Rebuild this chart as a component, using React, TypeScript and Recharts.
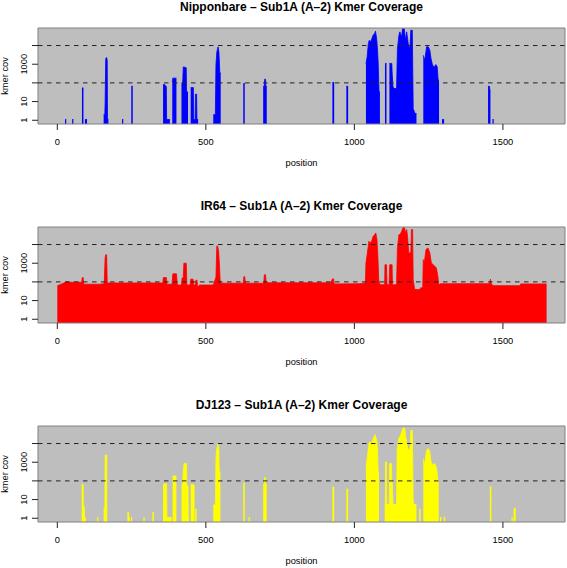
import { AreaChart, Area, XAxis, YAxis, CartesianGrid, ReferenceLine, ReferenceArea } from "recharts";

type Pt = [number, number];

const FONT = "'Liberation Sans', Arial, Helvetica, sans-serif";

// axis ticks
const xTicks = [0, 500, 1000, 1500];
const yTicks = [1, 10, 100, 1000, 10000];
const yTickLabels = ["1", "10", "", "1000", ""];
const cutoffs = [100, 10000];

// coverage runs: [position, kmer cov]
const nipponbareRuns: Pt[][] = [
  [[26, 1.1], [30, 1.1]],
  [[50, 1.1], [54, 1.1]],
  [[83, 54], [88, 54]],
  [[93, 1.1], [100, 1.1]],
  [[156, 2], [160, 2], [161, 10], [163, 2000], [166, 2300], [168, 1600], [169, 1.1], [172, 1.1]],
  [[218, 1.1], [222, 1.1]],
  [[249, 66], [254, 66]],
  [[356, 81], [362, 81], [364, 66], [367, 66], [368, 1.1], [379, 1.1]],
  [[387, 110], [389, 180], [401, 180]],
  [[418, 100], [422, 100], [424, 720], [430, 680], [434, 640], [435, 33], [440, 33]],
  [[449, 56], [458, 56], [459, 1.1], [464, 1.1], [465, 25], [469, 25], [470, 1.1], [474, 1.1]],
  [[525, 2], [532, 2], [534, 900], [537, 4500], [541, 8500], [544, 4500], [547, 340], [550, 340]],
  [[626, 92], [631, 92]],
  [[693, 66], [697, 66], [698, 157], [701, 157], [702, 66], [705, 66]],
  [[926, 105], [932, 105]],
  [[973, 66], [979, 66]],
  [[1039, 1100], [1043, 2450], [1047, 12600], [1050, 19000], [1054, 15500], [1059, 23400], [1063, 35500], [1068, 44000], [1071, 59000], [1075, 23400], [1078, 5600], [1080, 1300], [1083, 33], [1086, 33]],
  [[1103, 1100], [1108, 1100]],
  [[1118, 1100], [1126, 1100], [1127, 390], [1130, 61], [1134, 50], [1142, 50], [1145, 6900], [1150, 35500], [1153, 54000], [1159, 29000], [1162, 80000], [1168, 78000], [1172, 19000], [1176, 54000], [1179, 23400], [1182, 10500], [1187, 6900], [1190, 66000], [1195, 66000], [1198, 4.2], [1204, 2.3], [1209, 2.3]],
  [[1232, 3000], [1237, 1630], [1243, 8500], [1249, 8500], [1254, 5600], [1258, 2000], [1263, 880], [1270, 720], [1274, 960], [1279, 720], [1282, 140], [1285, 140]],
  [[1295, 1.1], [1302, 1.1]],
  [[1450, 66], [1455, 66], [1456, 40], [1458, 40]],
  [[1465, 1.1], [1469, 1.1]],
];

const ir64Runs: Pt[][] = [
  [
    [0, 63], [9, 71], [20, 85], [31, 103], [43, 96], [82, 96], [84, 170], [87, 170], [89, 75], [143, 75], [158, 80],
    [161, 2000], [163, 2800], [166, 2800], [168, 88], [345, 88], [355, 88], [357, 170], [367, 170], [369, 75], [386, 75],
    [389, 270], [401, 270], [404, 68], [418, 68], [420, 160], [424, 160], [426, 1000], [434, 1000], [436, 68], [447, 68],
    [449, 140], [457, 140], [459, 68], [464, 68], [467, 125], [470, 125], [472, 56], [476, 56], [478, 68], [525, 68],
    [534, 178], [537, 8500], [540, 8000], [543, 4200], [546, 700], [548, 125], [551, 85], [626, 85], [628, 190], [631, 190],
    [633, 85], [695, 85], [697, 240], [701, 240], [703, 90], [783, 90], [920, 90], [926, 145], [930, 145], [932, 78],
    [1018, 80], [1037, 88], [1039, 1050], [1043, 2900], [1049, 15000], [1052, 12300], [1058, 15000], [1063, 27500],
    [1069, 34000], [1072, 42000], [1076, 18600], [1079, 2350], [1082, 130], [1086, 71], [1102, 71], [1103, 830],
    [1108, 830], [1110, 71], [1117, 71], [1119, 830], [1127, 830], [1128, 71], [1142, 71], [1145, 6600], [1150, 34000],
    [1154, 34000], [1159, 51000], [1164, 80000], [1169, 80000], [1172, 42000], [1176, 63000], [1179, 27500],
    [1183, 3550], [1190, 3550], [1192, 63000], [1196, 63000], [1198, 130], [1203, 39], [1220, 39], [1223, 48],
    [1230, 48], [1232, 1550], [1236, 1270], [1241, 5400], [1248, 6600], [1254, 3550], [1259, 1050], [1265, 830],
    [1271, 690], [1276, 560], [1281, 200], [1284, 71], [1290, 80], [1455, 80], [1458, 140], [1461, 80], [1467, 63],
    [1557, 63], [1560, 78], [1647, 78],
  ],
];

const dj123Runs: Pt[][] = [
  [[82, 66], [87, 66], [88, 4.2], [91, 4.2], [92, 1.1], [96, 1.1]],
  [[134, 1.1], [138, 1.1]],
  [[156, 3.4], [160, 3.4], [161, 2450], [168, 2300]],
  [[236, 2.1], [240, 2.1], [241, 1.1], [244, 1.1]],
  [[248, 1.1], [252, 1.1]],
  [[290, 1.1], [294, 1.1]],
  [[320, 2.1], [325, 2.1]],
  [[356, 66], [363, 72], [368, 72], [369, 1.1], [385, 1.1]],
  [[388, 157], [390, 185], [401, 185]],
  [[418, 66], [422, 66], [424, 390], [427, 890], [435, 850], [436, 54], [440, 54], [441, 1.1], [443, 1.1]],
  [[449, 66], [458, 66], [459, 56], [462, 56]],
  [[464, 3], [469, 3]],
  [[525, 5.2], [532, 5.2], [534, 1500], [536, 4500], [541, 9500], [544, 4000], [545, 310], [549, 310]],
  [[626, 75], [631, 75]],
  [[644, 1.1], [648, 1.1]],
  [[693, 66], [697, 66], [698, 150], [701, 150], [702, 66], [705, 66]],
  [[926, 46], [932, 46]],
  [[973, 36], [979, 36]],
  [[1039, 560], [1043, 1550], [1049, 10000], [1052, 12300], [1057, 10000], [1061, 15000], [1066, 22600], [1070, 30000], [1075, 15000], [1078, 4400], [1080, 300], [1083, 300]],
  [[1102, 5.4], [1104, 5.4], [1105, 1050], [1108, 1050], [1109, 5.4], [1117, 5.4], [1118, 850], [1125, 850], [1126, 88], [1128, 88], [1130, 5.4], [1142, 5.4], [1144, 4400], [1149, 18600], [1153, 22600], [1159, 42000], [1164, 69000], [1170, 63000], [1173, 22600], [1178, 8100], [1181, 4400], [1187, 5400], [1190, 51000], [1195, 51000], [1198, 7.5], [1201, 5.4], [1209, 5.4]],
  [[1218, 3], [1223, 3]],
  [[1232, 1550], [1236, 690], [1243, 4400], [1249, 5400], [1254, 3550], [1258, 1050], [1263, 690], [1271, 850], [1277, 460], [1281, 110], [1284, 110]],
  [[1288, 1.1], [1293, 1.1]],
  [[1301, 1.1], [1306, 1.1]],
  [[1456, 49], [1461, 49]],
  [[1529, 1.1], [1533, 1.1]],
  [[1536, 3], [1540, 3.5], [1543, 3.5]],
];

const panels = [
  { title: "Nipponbare \u2013 Sub1A (A\u20132) Kmer Coverage", runs: nipponbareRuns, color: "#0000ff" },
  { title: "IR64 \u2013 Sub1A (A\u20132) Kmer Coverage", runs: ir64Runs, color: "#ff0000" },
  { title: "DJ123 \u2013 Sub1A (A\u20132) Kmer Coverage", runs: dj123Runs, color: "#ffff00" },
];

const X_DOMAIN: [number, number] = [-65, 1709];
const Y_DOMAIN: [number, number] = [0.63, 87000];
const CHART_W = 567;
const CHART_H = 190;
const PLOT_TOP = 28;
const PLOT_H = 96;
const PLOT_LEFT = 38;
const PLOT_RIGHT = 565;
const PANEL_STEP = 199;

function toRows(runs: Pt[][]) {
  const rows: { pos: number; cov: number | null }[] = [];
  runs.forEach((run) => {
    run.forEach(([pos, cov]) => rows.push({ pos, cov }));
    rows.push({ pos: run[run.length - 1][0], cov: null });
  });
  return rows;
}

function XTick({ x, y, payload }: any) {
  return (
    <text x={x} y={y + 12.5} textAnchor="middle" fontSize={9.3} fontFamily={FONT} fill="#000">
      {payload.value}
    </text>
  );
}

function YTick({ x, y, payload }: any) {
  const label = yTickLabels[yTicks.indexOf(payload.value)];
  if (!label) return <g />;
  return (
    <text
      transform={`translate(${x - 3.3},${y}) rotate(-90)`}
      textAnchor="middle"
      fontSize={9.3}
      fontFamily={FONT}
      fill="#000"
    >
      {label}
    </text>
  );
}

function Panel({ runs, color }: { runs: Pt[][]; color: string }) {
  const rows = toRows(runs);
  return (
    <AreaChart width={CHART_W} height={CHART_H} data={rows} margin={{ top: PLOT_TOP, right: CHART_W - PLOT_RIGHT, bottom: 0, left: 0 }}>
      <CartesianGrid horizontal={false} vertical={false} fill="#bebebe" />
      <XAxis
        type="number"
        dataKey="pos"
        domain={X_DOMAIN}
        ticks={xTicks}
        interval={0}
        allowDataOverflow
        height={CHART_H - PLOT_TOP - PLOT_H}
        axisLine={false}
        tickLine={{ stroke: "#222" }}
        tickSize={6}
        tick={<XTick />}
      />
      <YAxis
        type="number"
        scale="log"
        domain={Y_DOMAIN}
        ticks={yTicks}
        interval={0}
        allowDataOverflow
        width={PLOT_LEFT}
        axisLine={false}
        tickLine={{ stroke: "#222" }}
        tickSize={6}
        tick={<YTick />}
      />
      <Area
        type="linear"
        dataKey="cov"
        stroke={color}
        strokeWidth={0.8}
        fill={color}
        fillOpacity={1}
        baseValue={Y_DOMAIN[0]}
        connectNulls={false}
        dot={false}
        activeDot={false}
        isAnimationActive={false}
      />
      {cutoffs.map((c) => (
        <ReferenceLine key={c} y={c} stroke="#222" strokeWidth={1} strokeDasharray="4.5 4.5" />
      ))}
      <ReferenceArea x1={X_DOMAIN[0]} x2={X_DOMAIN[1]} y1={Y_DOMAIN[0]} y2={Y_DOMAIN[1]} fill="none" stroke="#808080" strokeWidth={1} />
    </AreaChart>
  );
}

export default function App() {
  const midX = (PLOT_LEFT + PLOT_RIGHT) / 2;
  return (
    <div style={{ position: "absolute", left: 0, top: 0, width: 567, height: 568, background: "#fff" }}>
      {panels.map((p, i) => (
        <div key={p.title} style={{ position: "absolute", left: 0, top: i * PANEL_STEP, width: CHART_W, height: CHART_H }}>
          <Panel runs={p.runs} color={p.color} />
        </div>
      ))}
      <svg width={567} height={568} style={{ position: "absolute", left: 0, top: 0, pointerEvents: "none" }}>
        {panels.map((p, i) => {
          const top = i * PANEL_STEP + PLOT_TOP;
          return (
            <g key={p.title} fontFamily={FONT} fill="#000">
              <text x={midX} y={top - 17.5} textAnchor="middle" fontSize={12} fontWeight="bold">
                {p.title}
              </text>
              <text x={midX} y={top + PLOT_H + 42} textAnchor="middle" fontSize={9.3}>
                position
              </text>
              <text transform={`translate(8.3,${top + PLOT_H / 2}) rotate(-90)`} textAnchor="middle" fontSize={9.3}>
                kmer cov
              </text>
            </g>
          );
        })}
      </svg>
    </div>
  );
}
